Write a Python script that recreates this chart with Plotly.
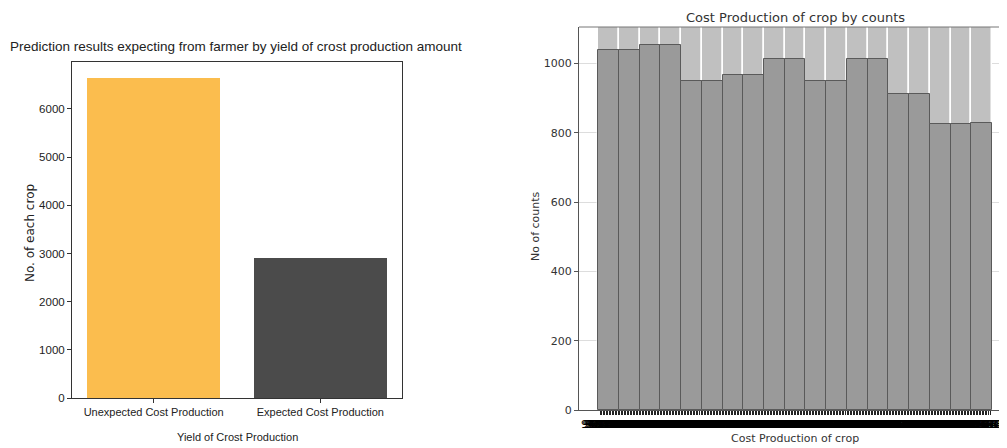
import numpy as np
import plotly.graph_objects as go

# ---- data: left chart ----
yield_categories = ["Unexpected Cost Production", "Expected Cost Production"]
yield_counts = [6643, 2906]
yield_colors = ["#FBBD4E", "#4B4B4B"]
left_yticks = [0, 1000, 2000, 3000, 4000, 5000, 6000]

# ---- data: right chart (histogram bins) ----
bin_index = list(range(19))
bin_counts = [1039, 1039, 1053, 1053, 949, 949, 967, 967, 1012, 1012,
              949, 949, 1012, 1012, 911, 911, 824, 824, 827]
right_yticks = [0, 200, 400, 600, 800, 1000]
right_ymax = 1105

# page body adds an 8px offset; figure sized to fit in the 1007x448 window
OFF = 8
W, H = 1007 - OFF, 448 - OFF


def px(x):
    return (x - OFF) / W


def py(y):
    return 1 - (y - OFF) / H


fig = go.Figure()

# left bar chart
fig.add_trace(go.Bar(
    x=yield_categories, y=yield_counts, marker=dict(color=yield_colors, line=dict(width=0)),
    width=0.8, xaxis="x", yaxis="y", showlegend=False,
))

# right: grey backdrop columns then the histogram bars
fig.add_trace(go.Bar(
    x=bin_index, y=[right_ymax] * len(bin_index), width=1,
    marker=dict(color="#c0c0c0", line=dict(color="white", width=1.5)),
    xaxis="x2", yaxis="y2", showlegend=False, hoverinfo="skip",
))
fig.add_trace(go.Bar(
    x=bin_index, y=bin_counts, width=1,
    marker=dict(color="#9a9a9a", line=dict(color="#5a5a5a", width=1)),
    xaxis="x2", yaxis="y2", showlegend=False,
))

# dense, overlapping tick labels of the original histogram x axis
dense_vals = np.linspace(-0.4, 18.4, 260)
dense_text = [f"{1000 + v * 150:.2f}" for v in dense_vals]

lib = "Liberation Sans Narrow, Liberation Sans, Arial"
dv = "DejaVu Sans, Liberation Sans"

fig.update_layout(
    width=W, height=H,
    margin=dict(l=0, r=0, t=0, b=0),
    paper_bgcolor="white", plot_bgcolor="white",
    barmode="overlay", bargap=0,
    xaxis=dict(
        domain=[px(72), px(402)], anchor="y", type="category", automargin=False,
        range=[-0.49, 1.49], showline=True, linecolor="#333", linewidth=1, mirror=True,
        ticks="outside", ticklen=4, tickcolor="#333", showgrid=False,
        tickfont=dict(family=lib, size=11, color="#222"),
    ),
    yaxis=dict(
        domain=[py(398), py(62)], anchor="x", automargin=False,
        range=[0, 6975], tickvals=left_yticks, showline=True, linecolor="#333",
        linewidth=1, mirror=True, ticks="outside", ticklen=4, tickcolor="#333",
        showgrid=False, zeroline=False,
        tickfont=dict(family=lib, size=11.5, color="#222"),
    ),
    xaxis2=dict(
        domain=[px(579), 1], anchor="y2", range=[-1.42, 19.22], automargin=False,
        tickmode="array", tickvals=list(dense_vals), ticktext=dense_text, tickangle=0,
        ticks="outside", ticklen=4, tickcolor="#222", tickwidth=1,
        tickfont=dict(family=dv, size=11, color="#000"),
        showline=True, linecolor="#555", linewidth=1, showgrid=False, zeroline=False,
    ),
    yaxis2=dict(
        domain=[py(410), py(27)], anchor="x2", range=[0, right_ymax],
        automargin=False,
        tickvals=right_yticks, ticks="outside", ticklen=4, tickcolor="#555",
        tickfont=dict(family=dv, size=11, color="#333"),
        showline=True, linecolor="#555", linewidth=1, showgrid=True,
        gridcolor="#dddddd", zeroline=False,
    ),
    shapes=[dict(type="line", xref="x2 domain", yref="y2 domain", x0=0, x1=1, y0=1, y1=1,
                 line=dict(color="#777", width=1))],
    annotations=[
        dict(text="Prediction results expecting from farmer by yield of crost production amount",
             xref="paper", yref="paper", x=px(236), y=py(46), showarrow=False,
             xanchor="center", yanchor="middle", font=dict(family=lib, size=13.5, color="#222")),
        dict(text="No. of each crop", xref="paper", yref="paper", x=px(30), y=py(233),
             textangle=-90, showarrow=False, xanchor="center", yanchor="middle",
             font=dict(family=dv, size=12, color="#222")),
        dict(text="Yield of Crost Production", xref="paper", yref="paper", x=px(237),
             y=py(437), showarrow=False, xanchor="center", yanchor="middle",
             font=dict(family=lib, size=11, color="#222")),
        dict(text="Cost Production of crop by counts", xref="paper", yref="paper",
             x=px(795), y=1, showarrow=False, xanchor="center", yanchor="top",
             font=dict(family=dv, size=13, color="#333")),
        dict(text="No of counts", xref="paper", yref="paper", x=px(535), y=py(226),
             textangle=-90, showarrow=False, xanchor="center", yanchor="middle",
             font=dict(family=dv, size=11, color="#333")),
        dict(text="Cost Production of crop", xref="paper", yref="paper", x=px(795),
             y=py(438), showarrow=False, xanchor="center", yanchor="middle",
             font=dict(family=dv, size=11, color="#333")),
    ],
)

fig.write_html("out.html")
